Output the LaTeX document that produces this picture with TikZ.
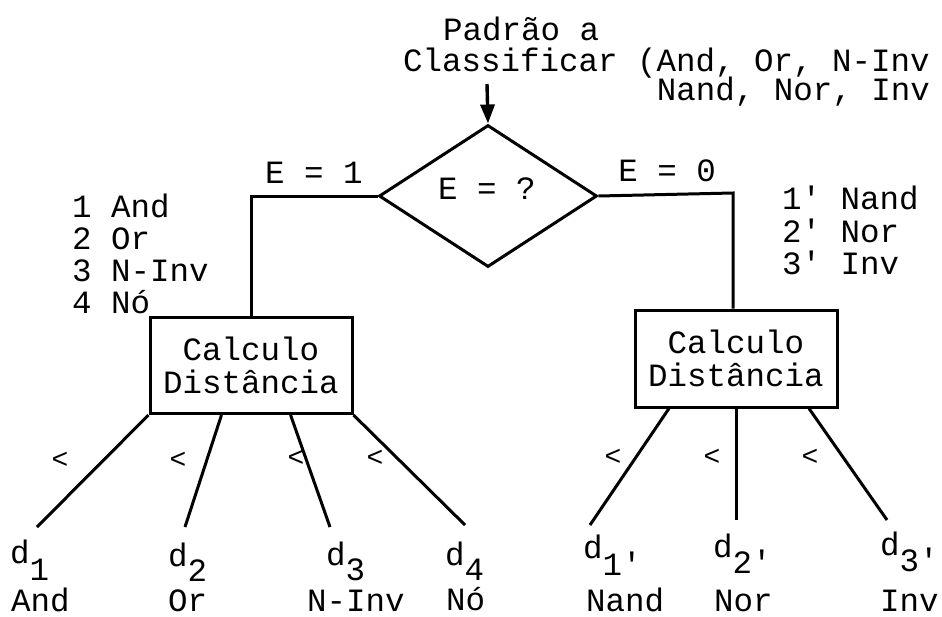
\documentclass[tikz,border=0pt]{standalone}
\usepackage{fontspec}
\setmonofont{Liberation Mono}
\usetikzlibrary{shapes.geometric,arrows.meta,calc}
\begin{document}
\begin{tikzpicture}[x=1pt,y=-1pt,
  every node/.style={font=\ttfamily\fontsize{32.5}{33}\selectfont, inner sep=0pt},
  ln/.style={line width=3pt},
  boxs/.style={draw, line width=3pt, minimum width=202pt, minimum height=96pt, align=center},
  lt/.style={font=\ttfamily\fontsize{28}{28}\selectfont},
  lst/.style={align=left, anchor=base west},
  dl/.style={anchor=base west}
]
\useasboundingbox (0,0) rectangle (942,616);
% title
\node[anchor=base west] (t1) at (443,40) {Padrão a};
\node[anchor=base east, align=right] (t2) at (930,100) {Classificar (And, Or, N-Inv\\[-4pt]Nand, Nor, Inv};
% decision
\node[draw, shape=diamond, line width=3pt, minimum width=218pt, minimum height=142pt] (dec) at (488,196) {};
\node[anchor=base] (dtext) at (487,199) {E = ?};
\coordinate (arrtop) at (487,84);
\draw[line width=3.4pt, -{Triangle[length=19pt,width=14pt]}] (arrtop) -- (dec.north);
% branch labels
\node[anchor=base] (e1) at (314,183) {E = 1};
\node[anchor=base] (e0) at (667,181) {E = 0};
\node[lst] (lst1) at (72,313) {1 And\\[-1pt]2 Or\\[-1pt]3 N-Inv\\[-1pt]4 Nó};
\node[lst] (lst2) at (782,274) {1' Nand\\[0pt]2' Nor\\[-1pt]3' Inv};
% boxes
\node[boxs] (b1) at (251,365.5) {Calculo\\Distância};
\node[boxs, minimum height=97pt] (b2) at (736,358.5) {Calculo\\Distância};
% connectors from decision
\draw[ln] (dec.west) -| (b1.north);
\coordinate (c2) at (733,193);
\draw[ln] (dec.east) -- (c2) -- (c2 |- b2.north);
% left branches
\coordinate (l1) at (37,527);
\coordinate (l2) at (185,527);
\coordinate (l3) at (330,527);
\coordinate (l4) at (465,525);
\draw[ln] (b1.south west) -- (l1);
\draw[ln] ($(b1.south west)!0.356!(b1.south east)$) -- (l2);
\draw[ln] ($(b1.south west)!0.693!(b1.south east)$) -- (l3);
\draw[ln] (b1.south east) -- (l4);
% right branches
\coordinate (r1) at (590,525);
\coordinate (r2) at (736,520);
\coordinate (r3) at (887,520);
\draw[ln] ($(b2.south west)!0.173!(b2.south east)$) -- (r1);
\draw[ln] (b2.south) -- (r2);
\draw[ln] ($(b2.south west)!0.856!(b2.south east)$) -- (r3);
% less-than marks
\node[lt] (m1) at (60,460) {<};
\node[lt] (m2) at (178,460) {<};
\node[lt] (m3) at (296,458) {<};
\node[lt] (m4) at (375,458) {<};
\node[lt] (m5) at (613,457) {<};
\node[lt] (m6) at (712,457) {<};
\node[lt] (m7) at (810,457) {<};
% leaf labels
\node[dl] (d1) at (10,563) {d\raisebox{-0.55em}{1}};
\node[dl] (d2) at (168,566) {d\raisebox{-0.48em}{2}};
\node[dl] (d3) at (326,565) {d\raisebox{-0.48em}{3}};
\node[dl] (d4) at (445,565) {d\raisebox{-0.48em}{4}};
\node[dl] (d5) at (583,558) {d\raisebox{-0.55em}{1'}};
\node[dl] (d6) at (713,557) {d\raisebox{-0.5em}{2'}};
\node[dl] (d7) at (880,555) {d\raisebox{-0.5em}{3'}};
\node[dl] (n1) at (11,611) {And};
\node[dl] (n2) at (168,611) {Or};
\node[dl] (n3) at (307,611) {N-Inv};
\node[dl] (n4) at (446,610) {Nó};
\node[dl] (n5) at (586,611) {Nand};
\node[dl] (n6) at (714,611) {Nor};
\node[dl] (n7) at (880,611) {Inv};
\end{tikzpicture}
\end{document}
